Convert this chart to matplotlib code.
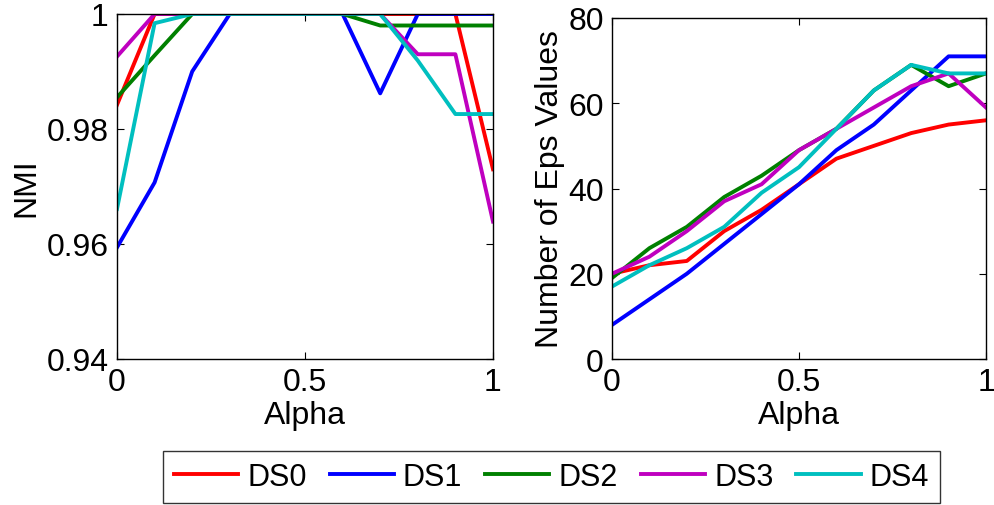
import matplotlib
matplotlib.use("Agg")
import matplotlib.pyplot as plt

plt.rcParams['font.family'] = ['Liberation Sans', 'DejaVu Sans']

alpha = [0.0, 0.1, 0.2, 0.3, 0.4, 0.5, 0.6, 0.7, 0.8, 0.9, 1.0]
names = ["DS0", "DS1", "DS2", "DS3", "DS4"]
colors = ["#ff0000", "#0000ff", "#008000", "#bf00bf", "#00bfbf"]

# NMI per dataset
nmi_ds0 = [0.9842, 1, 1, 1, 1, 1, 1, 1, 1, 1, 0.9730]
nmi_ds1 = [0.9594, 0.9707, 0.9900, 1, 1, 1, 1, 0.9862, 1, 1, 1]
nmi_ds2 = [0.9855, 0.9928, 1, 1, 1, 1, 1, 0.9980, 0.9980, 0.9980, 0.9980]
nmi_ds3 = [0.9926, 1, 1, 1, 1, 1, 1, 1, 0.9930, 0.9930, 0.9639]
nmi_ds4 = [0.9661, 0.9984, 1, 1, 1, 1, 1, 1, 0.9919, 0.9826, 0.9826]

# Number of Eps values per dataset
eps_ds0 = [20, 22, 23, 30, 35, 41, 47, 50, 53, 55, 56]
eps_ds1 = [8, 14, 20, 27, 34, 41, 49, 55, 63, 71, 71]
eps_ds2 = [19, 26, 31, 38, 43, 49, 54, 63, 69, 64, 67]
eps_ds3 = [20, 24, 30, 37, 41, 49, 54, 59, 64, 67, 59]
eps_ds4 = [17, 22, 26, 31, 39, 45, 54, 63, 69, 67, 67]

nmi = [nmi_ds0, nmi_ds1, nmi_ds2, nmi_ds3, nmi_ds4]
eps = [eps_ds0, eps_ds1, eps_ds2, eps_ds3, eps_ds4]

nmi_ticks = [0.94, 0.96, 0.98, 1.0]
nmi_ticklabels = ["0.94", "0.96", "0.98", "1"]
eps_ticks = [0, 20, 40, 60, 80]
x_ticks = [0, 0.5, 1]
x_ticklabels = ["0", "0.5", "1"]

W, H = 994, 506
fig = plt.figure(figsize=(W / 100, H / 100), dpi=100)

def px_axes(x0, y0, x1, y1):
    return fig.add_axes([x0 / W, 1 - y1 / H, (x1 - x0) / W, (y1 - y0) / H])

ax1 = px_axes(117, 15, 493, 360)
ax2 = px_axes(612, 19, 986, 360)

fs_tick = 23
fs_label = 23
lw = 2.8

for ax in (ax1, ax2):
    for sp in ax.spines.values():
        sp.set_linewidth(1.0)
    ax.tick_params(direction="in", length=5, width=0.8, top=True, right=True,
                   labelsize=fs_tick, pad=6)
    ax.set_xlim(0, 1)
    ax.set_xticks(x_ticks)
    ax.set_xticklabels(x_ticklabels)
    ax.set_xlabel("Alpha", fontsize=fs_label, labelpad=2)

lines = []
for vals, c, n in zip(nmi, colors, names):
    ln, = ax1.plot(alpha, vals, color=c, lw=lw, label=n)
    lines.append(ln)
ax1.set_ylim(0.94, 1.0)
ax1.set_yticks(nmi_ticks)
ax1.set_yticklabels(nmi_ticklabels)
ax1.set_ylabel("NMI", fontsize=fs_label, labelpad=4)

for vals, c, n in zip(eps, colors, names):
    ax2.plot(alpha, vals, color=c, lw=lw, label=n)
ax2.set_ylim(0, 80)
ax2.set_yticks(eps_ticks)
ax2.set_ylabel("Number of Eps Values", fontsize=fs_label, labelpad=2)

leg = fig.legend(handles=lines, labels=names, ncol=5, loc="center",
                 bbox_to_anchor=(551.5 / W, 1 - 478 / H),
                 fontsize=22, frameon=True, fancybox=False,
                 handlelength=2.1, handletextpad=0.3, columnspacing=0.75,
                 borderaxespad=0, borderpad=0.35)
leg.get_frame().set_edgecolor("black")
leg.get_frame().set_linewidth(1.0)

fig.savefig("out.png", dpi=100)
